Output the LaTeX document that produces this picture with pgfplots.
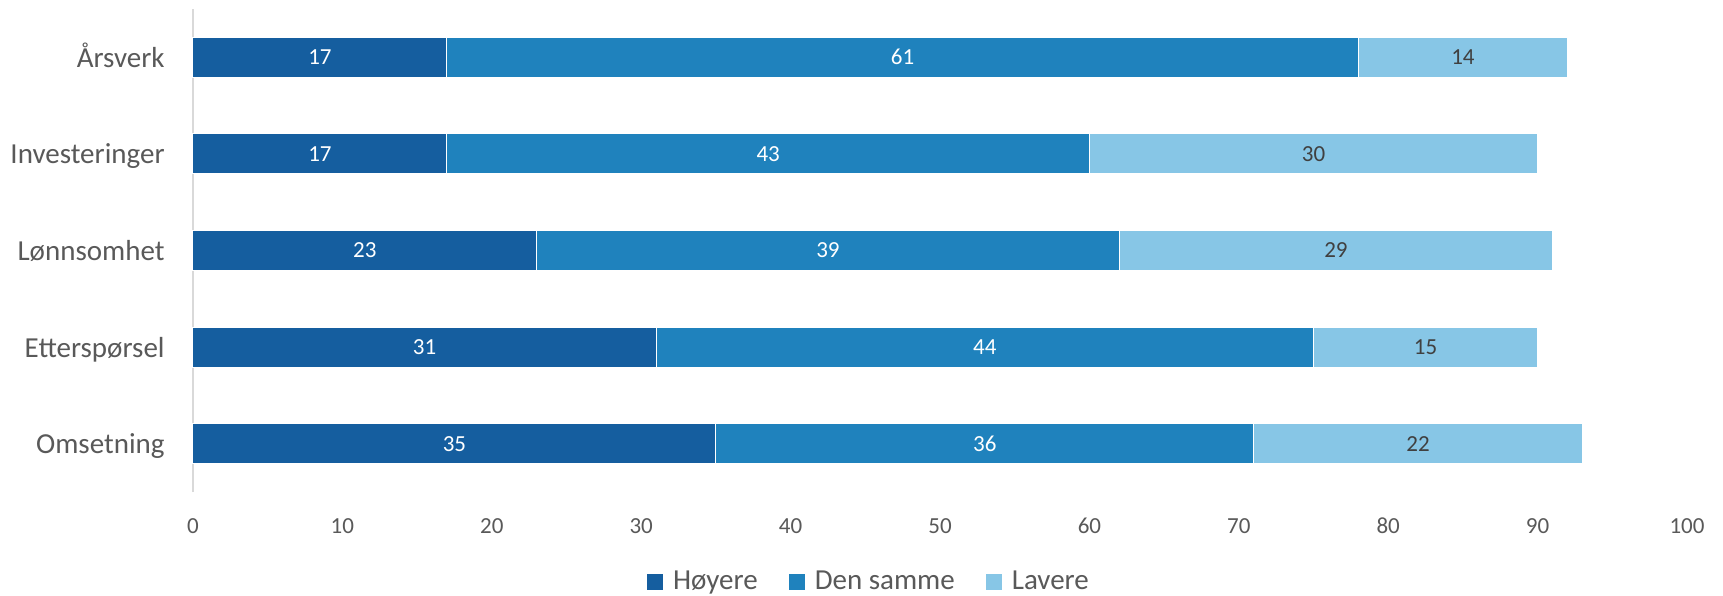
\documentclass[border=0pt]{standalone}
\usepackage{fontspec}
\setmainfont{Carlito}
\usepackage{pgfplots}
\pgfplotsset{compat=1.18}

\definecolor{hoy}{HTML}{155E9F}
\definecolor{same}{HTML}{1F82BD}
\definecolor{lav}{HTML}{87C6E6}
\definecolor{txt}{HTML}{595959}
\definecolor{lbl}{HTML}{404040}
\definecolor{axgray}{HTML}{D9D9D9}

\begin{document}
\begin{tikzpicture}
\begin{axis}[
    at={(0,0)}, anchor=south west,
    scale only axis,
    width=747pt, height=241.5pt,
    xbar stacked, bar width=20pt,
    xmin=0, xmax=100, ymin=-0.5, ymax=4.5,
    enlargelimits=false, clip=false,
    xtick={0,10,...,100},
    ytick={0,1,2,3,4},
    yticklabels={Omsetning,Etterspørsel,Lønnsomhet,Investeringer,Årsverk},
    axis lines*=left,
    axis line style={-},
    x axis line style={draw=none},
    y axis line style={draw=axgray, line width=1pt},
    major tick length=0pt,
    /pgf/number format/assume math mode=true,
    x tick label style={font=\fontsize{11.5}{14}\selectfont, text=txt,
        anchor=base, inner sep=0pt, yshift=-20.5pt},
    y tick label style={font=\fontsize{14.5}{17}\selectfont, text=txt,
        anchor=base east, inner sep=0pt, xshift=-14pt, yshift=-5pt},
    visualization depends on=rawx \as \rawx,
    nodes near coords={\pgfmathprintnumber{\rawx}},
    every node near coord/.append style={font=\fontsize{11.5}{14}\selectfont,
        anchor=center},
    legend style={at={(0.4518,-0.1863)}, anchor=center, draw=none,
        font=\fontsize{14.5}{17}\selectfont, text=txt,
        /tikz/every odd column/.append style={column sep=5pt},
        /tikz/every even column/.append style={column sep=15.5pt},
        nodes={inner sep=0pt}},
    legend columns=-1,
    legend image code/.code={\fill[#1,draw=none] (0pt,-4pt) rectangle (8pt,4pt);},
]
\addplot[fill=hoy, draw=white, line width=0.5pt,
    every node near coord/.append style={text=white}]
    coordinates {(35,0) (31,1) (23,2) (17,3) (17,4)};
\addplot[fill=same, draw=white, line width=0.5pt,
    every node near coord/.append style={text=white}]
    coordinates {(36,0) (44,1) (39,2) (43,3) (61,4)};
\addplot[fill=lav, draw=white, line width=0.5pt,
    every node near coord/.append style={text=lbl}]
    coordinates {(22,0) (15,1) (29,2) (30,3) (14,4)};
\legend{Høyere, Den samme, Lavere}
\end{axis}
\pgfresetboundingbox
\path (-96.5pt,-51.5pt) rectangle (765pt,246pt);
\end{tikzpicture}
\end{document}
